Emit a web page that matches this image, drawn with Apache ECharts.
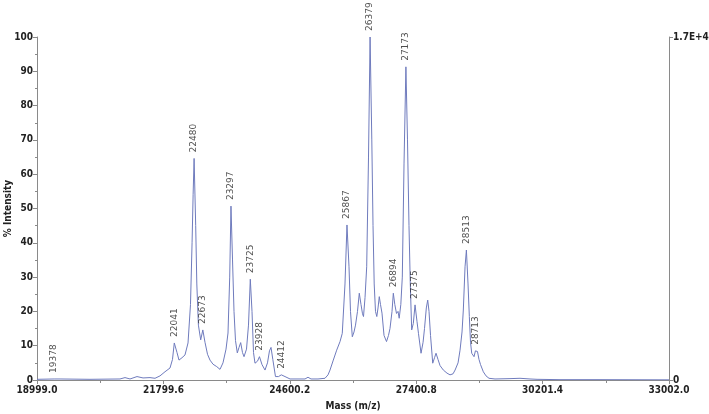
<!doctype html>
<html>
<head>
<meta charset="utf-8">
<title>Mass spectrum</title>
<script src="https://cdn.jsdelivr.net/npm/echarts@6/dist/echarts.min.js"></script>
<style>
html, body { margin: 0; padding: 0; background: #fff; }
#chart { width: 709px; height: 414px; }
</style>
</head>
<body>
<div id="chart"></div>
<script>
// spectrum trace (mass, % intensity)
var massData = [18999, 19378, 19509, 20173, 20838, 20949, 21060, 21215, 21348, 21503, 21614, 21724, 21835, 21946,
	22001, 22041, 22101, 22145, 22212, 22278, 22345, 22400, 22435, 22458, 22480, 22515, 22540, 22575, 22626, 22673,
	22721, 22777, 22832, 22899, 22981, 23054, 23120, 23187, 23231, 23269, 23297, 23331, 23364, 23397, 23437, 23475,
	23512, 23552, 23586, 23641, 23685, 23725, 23763, 23796, 23829, 23885, 23928, 23984, 24051, 24106, 24150, 24184,
	24224, 24283, 24350, 24412, 24494, 24605, 24826, 24937, 25003, 25070, 25225, 25380, 25447, 25491, 25564, 25639,
	25713, 25763, 25823, 25867, 25912, 25945, 25985, 26023, 26056, 26100, 26140, 26178, 26211, 26233, 26267, 26304,
	26344, 26379, 26417, 26444, 26470, 26499, 26528, 26555, 26583, 26610, 26643, 26688, 26743, 26787, 26820, 26865,
	26894, 26927, 26964, 26998, 27024, 27060, 27093, 27131, 27173, 27208, 27241, 27270, 27301, 27337, 27375, 27419,
	27452, 27508, 27553, 27585, 27625, 27656, 27685, 27718, 27767, 27807, 27840, 27884, 27929, 28002, 28083, 28150,
	28217, 28262, 28328, 28372, 28416, 28445, 28483, 28513, 28549, 28578, 28604, 28631, 28682, 28713, 28759, 28792,
	28826, 28888, 28948, 29014, 29147, 29479, 29701, 29922, 30078, 30587, 31473, 33002];
var intensityData = [0.2, 0.3, 0.3, 0.2, 0.3, 0.7, 0.3, 1.0, 0.6, 0.7, 0.5, 1.2, 2.4, 3.5,
	6, 10.8, 8, 5.8, 6.5, 7.3, 10.8, 22, 40, 54, 64.6, 45, 28, 16, 11.7, 14.6,
	11, 7.5, 5.8, 4.6, 3.9, 3.1, 5.0, 9, 13.7, 30, 50.7, 35, 20, 11.5, 7.9, 9.5,
	10.9, 8, 6.8, 9, 16, 29.4, 20, 8, 4.9, 5.5, 6.8, 4.5, 2.9, 5, 8.5, 9.5,
	6, 1.0, 1.0, 1.5, 1.0, 0.3, 0.3, 0.3, 0.8, 0.3, 0.3, 0.5, 1.5, 2.9, 5.8, 8.7,
	11.2, 13.6, 28, 45.2, 33, 20, 12.6, 14, 16, 20, 25.3, 22, 19.3, 18.5, 24, 33,
	65, 100, 70, 45, 28, 20, 18.5, 21, 24.3, 22, 19.5, 13, 11.2, 13, 15, 20,
	25.3, 22, 19.4, 20, 18, 22, 30, 63, 91.3, 70, 45, 28, 14.6, 16.5, 21.9, 17,
	13.5, 7.8, 11, 15, 21, 23.3, 20, 13, 4.9, 6.5, 7.8, 6, 4.2, 2.9, 2, 1.5,
	1.8, 2.9, 5, 8.7, 14, 20.4, 33, 37.9, 28, 18.5, 11, 7.8, 6.8, 8.5, 8.3, 6,
	4.5, 2.4, 1.2, 0.5, 0.3, 0.4, 0.5, 0.3, 0.2, 0.1, 0.1, 0.05];

// labelled peaks
var peakMass = [19378, 22041, 22480, 22673, 23297, 23725, 23928, 24412, 25867, 26379, 26894, 27173, 27375, 28513, 28713];
var peakIntensity = [0.3, 10.8, 64.6, 14.6, 50.7, 29.4, 6.8, 1.5, 45.2, 100, 25.3, 91.3, 21.9, 37.9, 8.5];

// axis range
var massMin = 18999.0;
var massMax = 33002.0;
var massStep = 2800.6;
var countsMax = 17000;

var chart = echarts.init(document.getElementById('chart'));

// x is plotted as offset from massMin so the ticks land on the printed values
var lineData = massData.map(function (m, i) { return [m - massMin, intensityData[i]]; });
var peakData = peakMass.map(function (m, i) { return [m - massMin, peakIntensity[i]]; });

var axisFont = {
	fontFamily: '"DejaVu Sans Condensed", "DejaVu Sans", sans-serif',
	fontSize: 10,
	fontWeight: 'bold',
	color: '#222'
};

var option = {
	animation: false,
	backgroundColor: '#fff',
	grid: {
		left: 37,
		right: 40,
		top: 37,
		bottom: 34,
		containLabel: false,
		outerBoundsMode: 'none'
	},
	xAxis: {
		type: 'value',
		min: 0,
		max: massMax - massMin,
		interval: massStep,
		name: 'Mass (m/z)',
		nameLocation: 'middle',
		nameGap: 21,
		nameMoveOverlap: false,
		nameTextStyle: axisFont,
		axisLine: { show: true, lineStyle: { color: '#8a8a8a', width: 1 } },
		axisTick: { show: true, length: 4, lineStyle: { color: '#8a8a8a' } },
		minorTick: { show: true, splitNumber: 2, length: 3, lineStyle: { color: '#8a8a8a' } },
		splitLine: { show: false },
		axisLabel: {
			fontFamily: axisFont.fontFamily,
			fontSize: 10,
			fontWeight: 'bold',
			color: '#222',
			margin: 5,
			formatter: function (v) { return (v + massMin).toFixed(1); }
		}
	},
	yAxis: [{
		type: 'value',
		min: 0,
		max: 100,
		interval: 10,
		name: '% Intensity',
		nameLocation: 'middle',
		nameGap: 24,
		nameMoveOverlap: false,
		nameRotate: 90,
		nameTextStyle: axisFont,
		axisLine: { show: true, lineStyle: { color: '#8a8a8a', width: 1 } },
		axisTick: { show: true, length: 4, lineStyle: { color: '#8a8a8a' } },
		minorTick: { show: true, splitNumber: 2, length: 2, lineStyle: { color: '#8a8a8a' } },
		splitLine: { show: false },
		axisLabel: {
			fontFamily: axisFont.fontFamily,
			fontSize: 10,
			fontWeight: 'bold',
			color: '#222',
			margin: 4
		}
	}, {
		type: 'value',
		position: 'right',
		min: 0,
		max: countsMax,
		interval: countsMax,
		axisLine: { show: true, lineStyle: { color: '#8a8a8a', width: 1 } },
		axisTick: { show: true, length: 4, lineStyle: { color: '#8a8a8a' } },
		splitLine: { show: false },
		axisLabel: {
			fontFamily: axisFont.fontFamily,
			fontSize: 10,
			fontWeight: 'bold',
			color: '#222',
			margin: 4,
			formatter: function (v) { return v === 0 ? '0' : '1.7E+4'; }
		}
	}],
	series: [{
		type: 'line',
		data: lineData,
		showSymbol: false,
		symbol: 'none',
		lineStyle: { color: '#6f7bbd', width: 1 },
		z: 3
	}, {
		type: 'scatter',
		data: peakData,
		symbolSize: 0,
		silent: true,
		label: {
			show: true,
			position: 'top',
			distance: 6,
			rotate: 90,
			align: 'left',
			verticalAlign: 'middle',
			fontFamily: '"DejaVu Sans", sans-serif',
			fontSize: 9,
			color: '#222',
			formatter: function (p) { return String(Math.round(p.value[0] + massMin)); }
		},
		z: 4
	}]
};

chart.setOption(option);
</script>
</body>
</html>
